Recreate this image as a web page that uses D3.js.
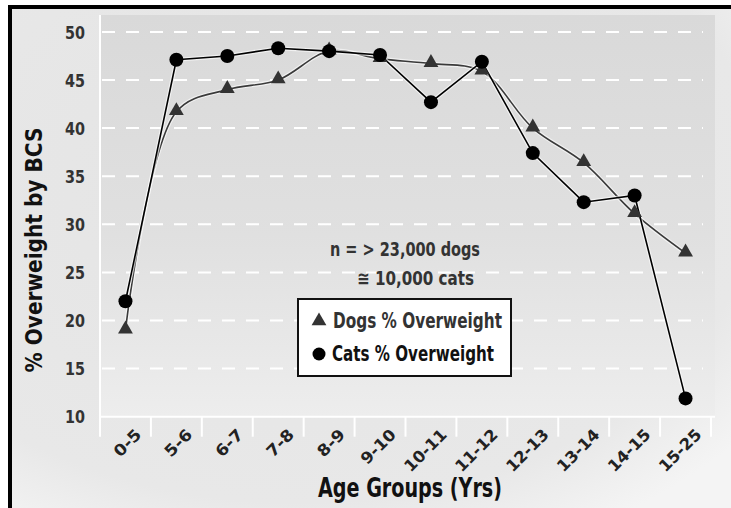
<!DOCTYPE html>
<html><head><meta charset="utf-8">
<script src="https://cdn.jsdelivr.net/npm/d3@7"></script>
<style>
html,body{margin:0;padding:0;background:#fff;}
svg{display:block;}
text{font-family:"DejaVu Sans Condensed","DejaVu Sans",sans-serif;font-stretch:condensed;font-weight:bold;}
</style></head><body>
<svg id="c" width="731" height="508"></svg>
<script>
const categories = ["0-5","5-6","6-7","7-8","8-9","9-10","10-11","11-12","12-13","13-14","14-15","15-25"];
const dogs = [19, 41.7, 44, 45, 48, 47.2, 46.7, 45.9, 40, 36.4, 31.1, 27];
const cats = [22, 47.1, 47.5, 48.3, 48, 47.6, 42.7, 46.9, 37.4, 32.3, 33, 11.9];
const yTicks = [10,15,20,25,30,35,40,45,50];
const seriesNames = ["Dogs % Overweight","Cats % Overweight"];
const noteLines = ["n = > 23,000 dogs","\u2245 10,000 cats"];

(function(){
const svg = d3.select("#c");
const defs = svg.append("defs");
const g1 = defs.append("radialGradient").attr("id","outerG").attr("cx","40%").attr("cy","35%").attr("r","80%");
g1.append("stop").attr("offset","0%").attr("stop-color","#e4e4e4");
g1.append("stop").attr("offset","80%").attr("stop-color","#e8e8e8");
g1.append("stop").attr("offset","100%").attr("stop-color","#f4f4f4");
const g2 = defs.append("linearGradient").attr("id","plotG").attr("x1",0).attr("y1",0).attr("x2",0).attr("y2",1);
g2.append("stop").attr("offset","0%").attr("stop-color","#d9d9d9");
g2.append("stop").attr("offset","55%").attr("stop-color","#e0e0e0");
g2.append("stop").attr("offset","100%").attr("stop-color","#ededed");

// outer panel
svg.append("rect").attr("x",10).attr("y",7).attr("width",721).attr("height",501).attr("fill","url(#outerG)");
svg.append("line").attr("x1",10).attr("x2",10).attr("y1",5).attr("y2",508).attr("stroke","#000").attr("stroke-width",4);
svg.append("line").attr("x1",8).attr("x2",731).attr("y1",7).attr("y2",7).attr("stroke","#000").attr("stroke-width",4);

const pL = 100, pR = 711, pT = 15, pB = 416.7;
const x = d3.scaleBand().domain(categories).range([pL, pR]);
const y = d3.scaleLinear().domain([10, 50]).range([pB, 31.9]);

svg.append("rect").attr("x",pL).attr("y",pT).attr("width",pR-pL+4).attr("height",pB-pT).attr("fill","url(#plotG)");

// grid
svg.append("g").selectAll("line").data(yTicks.filter(d=>d>10)).join("line")
  .attr("x1",pL+2).attr("x2",pR-8).attr("y1",d=>y(d)).attr("y2",d=>y(d))
  .attr("stroke","#fff").attr("stroke-width",2).attr("stroke-dasharray","13,11");
// axes lines
svg.append("line").attr("x1",pL).attr("x2",pL).attr("y1",pT).attr("y2",pB+20).attr("stroke","#fff").attr("stroke-width",2);
svg.append("line").attr("x1",pL).attr("x2",pR+4).attr("y1",pB).attr("y2",pB).attr("stroke","#fff").attr("stroke-width",2);
svg.append("g").selectAll("line").data(categories).join("line")
  .attr("x1",d=>x(d)+x.bandwidth()).attr("x2",d=>x(d)+x.bandwidth())
  .attr("y1",pB).attr("y2",pB+20).attr("stroke","#fff").attr("stroke-width",2);

// y tick labels
svg.append("g").selectAll("text").data(yTicks).join("text")
  .attr("x",85).attr("y",d=>y(d)).attr("dy","0.36em").attr("text-anchor","end")
  .attr("font-size",18.5).attr("fill","#333")
  .attr("textLength",20).attr("lengthAdjust","spacingAndGlyphs").text(d=>d);

// x tick labels
svg.append("g").selectAll("text").data(categories).join("text")
  .attr("text-anchor","end").attr("font-size",16).attr("fill","#222")
  .attr("transform",d=>`translate(${x(d)+x.bandwidth()/2+13},${pB+15}) rotate(-45)`)
  .attr("dy","0.35em")
  .attr("textLength",d=>d.length*10.5).attr("lengthAdjust","spacingAndGlyphs").text(d=>d);

// axis titles
svg.append("text").attr("transform",`translate(42,250) rotate(-90)`).attr("text-anchor","middle")
  .attr("font-size",23).attr("fill","#111").attr("textLength",245).attr("lengthAdjust","spacingAndGlyphs").text("% Overweight by BCS");
svg.append("text").attr("x",410).attr("y",497).attr("text-anchor","middle")
  .attr("font-size",27).attr("fill","#111").attr("textLength",184).attr("lengthAdjust","spacingAndGlyphs").text("Age Groups (Yrs)");

// lines
const cx = (d,i)=>x(categories[i])+x.bandwidth()/2;
const dogLine = d3.line().x(cx).y(d=>y(d)).curve(d3.curveCatmullRom.alpha(0.5));
const catLine = d3.line().x(cx).y(d=>y(d));
[[dogs,dogLine,"#3a3a3a"],[cats,catLine,"#000"]].forEach(([data,gen,col])=>{
  svg.append("path").attr("d",gen(data)).attr("fill","none").attr("stroke","#fff").attr("stroke-opacity",0.6).attr("stroke-width",4);
  svg.append("path").attr("d",gen(data)).attr("fill","none").attr("stroke",col).attr("stroke-width",1.6);
});
const tri = d3.symbol().type(d3.symbolTriangle).size(95);
svg.append("g").selectAll("path").data(dogs).join("path")
  .attr("d",tri).attr("transform",(d,i)=>`translate(${cx(d,i)},${y(d)-1})`).attr("fill","#333");
svg.append("g").selectAll("circle").data(cats).join("circle")
  .attr("cx",cx).attr("cy",d=>y(d)).attr("r",7).attr("fill","#000");

// note
svg.append("text").attr("x",405).attr("y",256).attr("text-anchor","middle").attr("font-size",19).attr("fill","#333")
  .attr("textLength",150).attr("lengthAdjust","spacingAndGlyphs").text(noteLines[0]);
svg.append("text").attr("x",415.5).attr("y",285).attr("text-anchor","middle").attr("font-size",19).attr("fill","#333")
  .attr("textLength",117).attr("lengthAdjust","spacingAndGlyphs").text(noteLines[1]);

// legend
svg.append("rect").attr("x",298).attr("y",299).attr("width",213).attr("height",77).attr("fill","#fff").attr("stroke","#111").attr("stroke-width",2);
svg.append("path").attr("d",tri).attr("transform","translate(319,321)").attr("fill","#333");
svg.append("circle").attr("cx",319).attr("cy",354).attr("r",6.5).attr("fill","#000");
svg.append("text").attr("x",333).attr("y",328).attr("font-size",21).attr("fill","#333")
  .attr("textLength",169).attr("lengthAdjust","spacingAndGlyphs").text(seriesNames[0]);
svg.append("text").attr("x",332).attr("y",361).attr("font-size",21).attr("fill","#111")
  .attr("textLength",162).attr("lengthAdjust","spacingAndGlyphs").text(seriesNames[1]);
})();
</script></body></html>
